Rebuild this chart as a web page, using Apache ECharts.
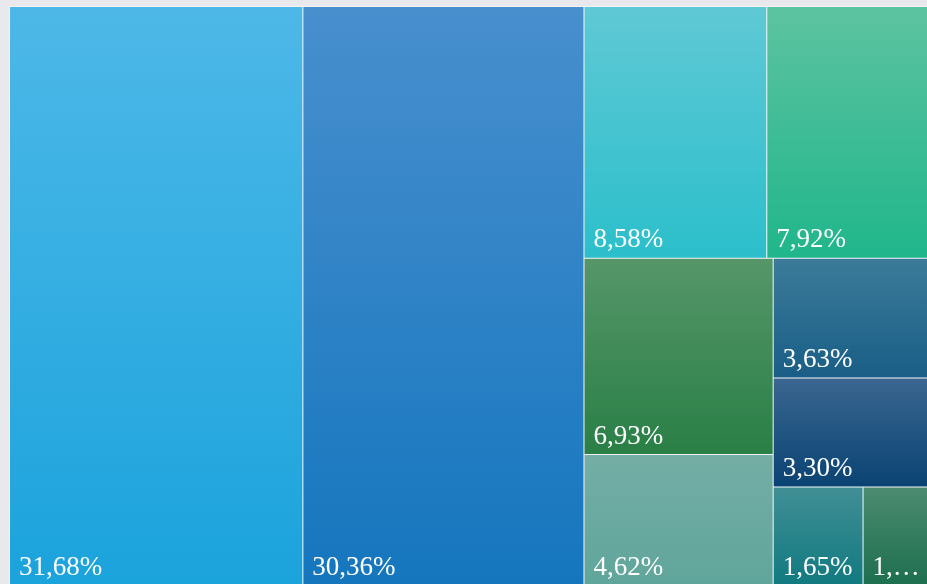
<!DOCTYPE html>
<html>
<head>
<meta charset="utf-8">
<script src="https://cdn.jsdelivr.net/npm/echarts@6/dist/echarts.min.js"></script>
<style>
html,body{margin:0;padding:0;background:#e9e9ed;}
#chart{width:927px;height:584px;}
</style>
</head>
<body>
<div id="chart"></div>
<script>
const values = [31.68, 30.36, 8.58, 7.92, 6.93, 4.62, 3.63, 3.30, 1.65, 1.33];
const topColors = ['#4db8e8', '#488fce', '#5fc9d5', '#5dc3a0', '#569669', '#74aea5', '#3b7b99', '#3a6690', '#408f95', '#4c8b6f'];
const bottomColors = ['#1ba3dc', '#1576be', '#2bbfcb', '#20b68b', '#297f46', '#60a59b', '#1a5e87', '#0a4373', '#117a80', '#1d6f4f'];

const data = values.map((v, i) => ({
  name: String(i),
  value: v,
  itemStyle: {
    color: {
      type: 'linear', x: 0, y: 0, x2: 0, y2: 1,
      colorStops: [{offset: 0, color: topColors[i]}, {offset: 1, color: bottomColors[i]}]
    }
  }
}));

const chart = echarts.init(document.getElementById('chart'), null, {renderer: 'canvas'});
chart.setOption({
  backgroundColor: '#e9e9ed',
  series: [{
    type: 'treemap',
    left: 9, top: 6, width: 927, height: 580,
    squareRatio: 1,
    roam: false,
    nodeClick: false,
    breadcrumb: {show: false},
    animation: false,
    label: {
      show: true,
      position: 'insideBottomLeft',
      color: '#ffffff',
      fontFamily: 'Liberation Serif',
      fontSize: 27,
      padding: [0, 0, 4, 9],
      overflow: 'truncate',
      ellipsis: '…',
      formatter: p => p.value.toFixed(2).replace('.', ',') + '%'
    },
    upperLabel: {show: false},
    levels: [{
      itemStyle: {borderWidth: 1, gapWidth: 1, borderColor: '#f2f4f6'}
    }, {
      itemStyle: {borderWidth: 0, gapWidth: 0}
    }],
    data: data
  }]
});
</script>
</body>
</html>
